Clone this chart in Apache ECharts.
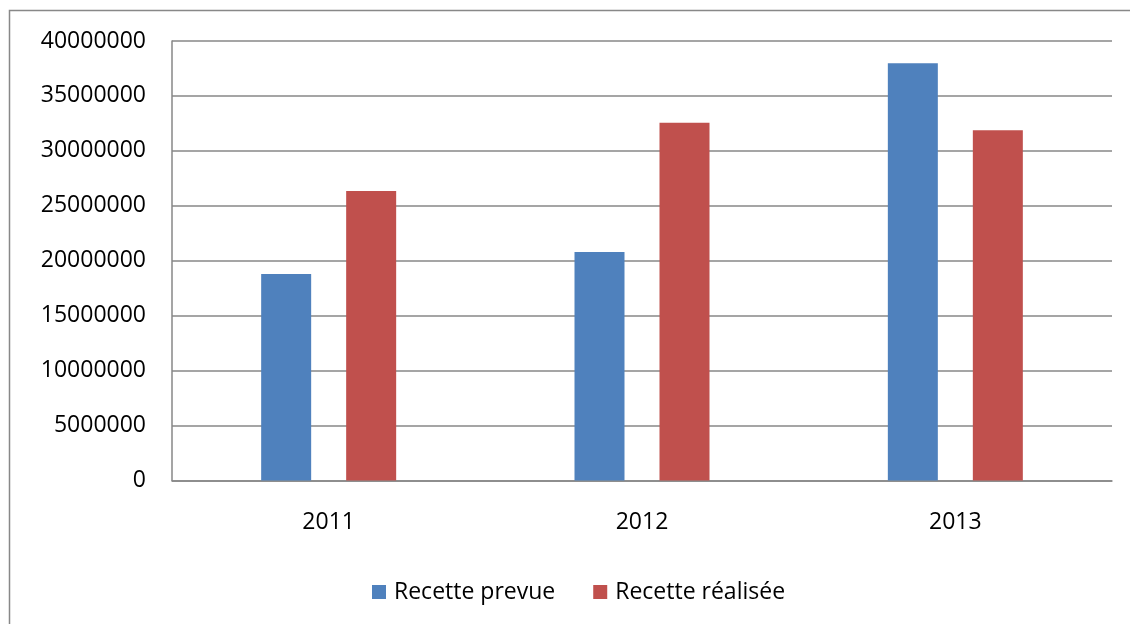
<!DOCTYPE html>
<html>
<head>
<meta charset="utf-8">
<script src="https://cdn.jsdelivr.net/npm/echarts@6/dist/echarts.min.js"></script>
<style>
html,body{margin:0;padding:0;background:#fff;}
#chart{width:1130px;height:624px;}
</style>
</head>
<body>
<div id="chart"></div>
<script>
const categories = ['2011', '2012', '2013'];
const recettePrevue = [18790000, 20790000, 37970000];
const recetteRealisee = [26340000, 32550000, 31880000];
const seriesNames = ['Recette prevue', 'Recette réalisée'];
const yMin = 0, yMax = 40000000, yStep = 5000000;

const FONT = 'Open Sans';
const FS = 23;
const chart = echarts.init(document.getElementById('chart'));
chart.setOption({
  animation: false,
  backgroundColor: '#fff',
  textStyle: { fontFamily: FONT },
  graphic: [{
    type: 'rect',
    shape: { x: 9.5, y: 10.5, width: 1200, height: 700 },
    style: { fill: 'none', stroke: '#888', lineWidth: 1.5 },
    silent: true
  }],
  grid: { left: 172, right: 18, top: 41, bottom: 143.5, containLabel: false },
  legend: {
    left: 372,
    top: 578,
    padding: 0,
    itemWidth: 14,
    itemHeight: 14,
    itemGap: 38,
    icon: 'rect',
    textStyle: { fontFamily: FONT, fontSize: FS, color: '#000', lineHeight: 28, padding: [0, 0, 0, 3] },
    data: seriesNames
  },
  xAxis: {
    type: 'category',
    data: categories,
    axisLine: { show: true, lineStyle: { color: '#878787', width: 1.5 } },
    axisTick: { show: false },
    axisLabel: { color: '#000', fontFamily: FONT, fontSize: FS, margin: 30 },
    splitLine: { show: false }
  },
  yAxis: {
    type: 'value',
    min: yMin, max: yMax, interval: yStep,
    axisLine: { show: true, lineStyle: { color: '#878787', width: 1.5 } },
    axisTick: { show: false },
    axisLabel: { color: '#000', fontFamily: FONT, fontSize: FS, margin: 26, formatter: v => String(v) },
    splitLine: { show: true, lineStyle: { color: '#878787', width: 1.5 } }
  },
  series: [
    { name: seriesNames[0], type: 'bar', data: recettePrevue, barWidth: 50, barGap: '70%',
      itemStyle: { color: '#4F81BD' } },
    { name: seriesNames[1], type: 'bar', data: recetteRealisee, barWidth: 50, barGap: '70%',
      itemStyle: { color: '#C0504D' } }
  ]
});
</script>
</body>
</html>
